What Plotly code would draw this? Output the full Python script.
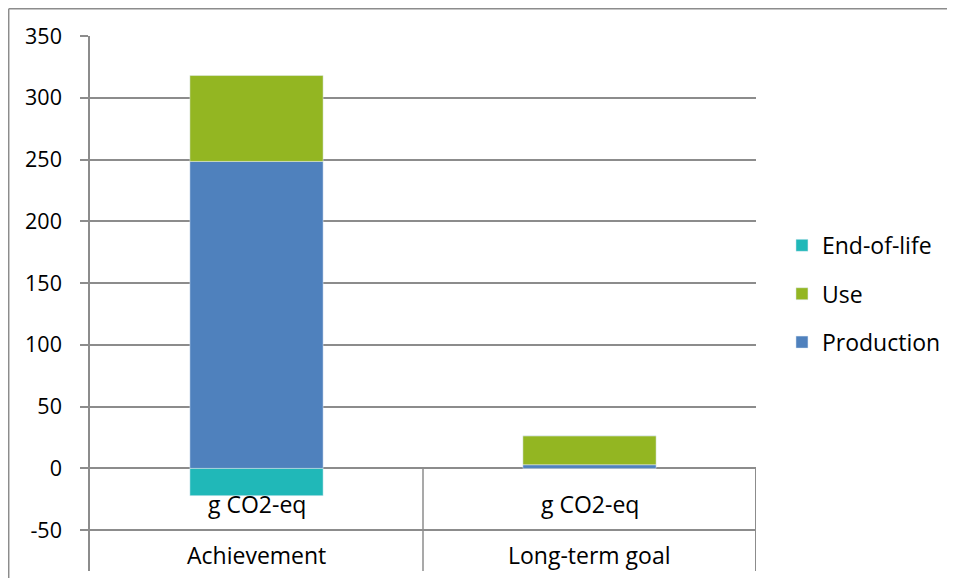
import plotly.graph_objects as go

categories = ["Achievement", "Long-term goal"]
unit_labels = ["g CO2-eq", "g CO2-eq"]
production = [248.5, 3.0]
use = [69.5, 23.5]
end_of_life = [-22.0, 0.0]
y_ticks = [-50, 0, 50, 100, 150, 200, 250, 300, 350]
y_ticktext = ["-50", "0", "50", "100", "150", "200", "250", "300", "350"]

FONT = "Open Sans"
GRID = "#8c8c8c"

# plot area in figure pixels (page adds an 8px body margin)
ML, MT = 82, 28
PW, PH = 665.7, 535.5

fig = go.Figure()
fig.add_trace(go.Bar(x=categories, y=production, name="Production",
                     marker_color="#4F81BD", legendgroup="p", legendrank=3))
fig.add_trace(go.Bar(x=categories, y=use, name="Use",
                     marker_color="#93B622", legendgroup="u", legendrank=2))
fig.add_trace(go.Bar(x=categories, y=end_of_life, name="End-of-life",
                     marker_color="#20B8B8", legendgroup="e", legendrank=1))

# category labels (two levels) below the zero line
for cat, unit in zip(categories, unit_labels):
    fig.add_annotation(x=cat, y=-29, xref="x", yref="y", text=unit,
                       showarrow=False, font=dict(size=23, color="#000"))
    fig.add_annotation(x=cat, y=-70, xref="x", yref="y", text=cat,
                       showarrow=False, font=dict(size=23, color="#000"))

# category dividers from the axis line down
for xv in [0.5, 1.5]:
    fig.add_shape(type="line", xref="x", yref="y", x0=xv, x1=xv, y0=0, y1=-83,
                  line=dict(color=GRID, width=2 if xv == 1.5 else 1.5))

# chart area border (top and left edges visible)
top = 1 + (MT - 0.75) / PH
left = -(ML - 0.75) / PW
fig.add_shape(type="line", xref="paper", yref="paper", x0=left, x1=2, y0=top, y1=top,
              line=dict(color=GRID, width=1.5))
fig.add_shape(type="line", xref="paper", yref="paper", x0=left, x1=left, y0=-1, y1=top,
              line=dict(color=GRID, width=1.5))

fig.update_layout(
    barmode="relative",
    bargap=0.6,
    width=955, height=578,
    margin=dict(l=ML, r=955 - ML - PW, t=MT, b=578 - MT - PH),
    plot_bgcolor="white",
    paper_bgcolor="white",
    font=dict(family=FONT, size=22, color="#000"),
    showlegend=True,
    legend=dict(x=1.039, y=0.518, xanchor="left", yanchor="middle",
                traceorder="grouped", tracegroupgap=15.5,
                font=dict(size=23), itemwidth=30),
)
fig.update_xaxes(showticklabels=False, showgrid=False, showline=False,
                 range=[-0.5, 1.5], zeroline=False)
fig.update_yaxes(range=[-83, 350], tickvals=y_ticks, ticktext=y_ticktext,
                 tickfont=dict(size=21.5),
                 showgrid=True, gridcolor=GRID, gridwidth=1.5,
                 zeroline=True, zerolinecolor=GRID, zerolinewidth=1.5,
                 showline=True, linecolor=GRID, linewidth=1.5,
                 ticks="outside", ticklen=8, tickcolor=GRID, tickwidth=1.5,
                 ticklabelstandoff=14)

fig.write_html("out.html")
